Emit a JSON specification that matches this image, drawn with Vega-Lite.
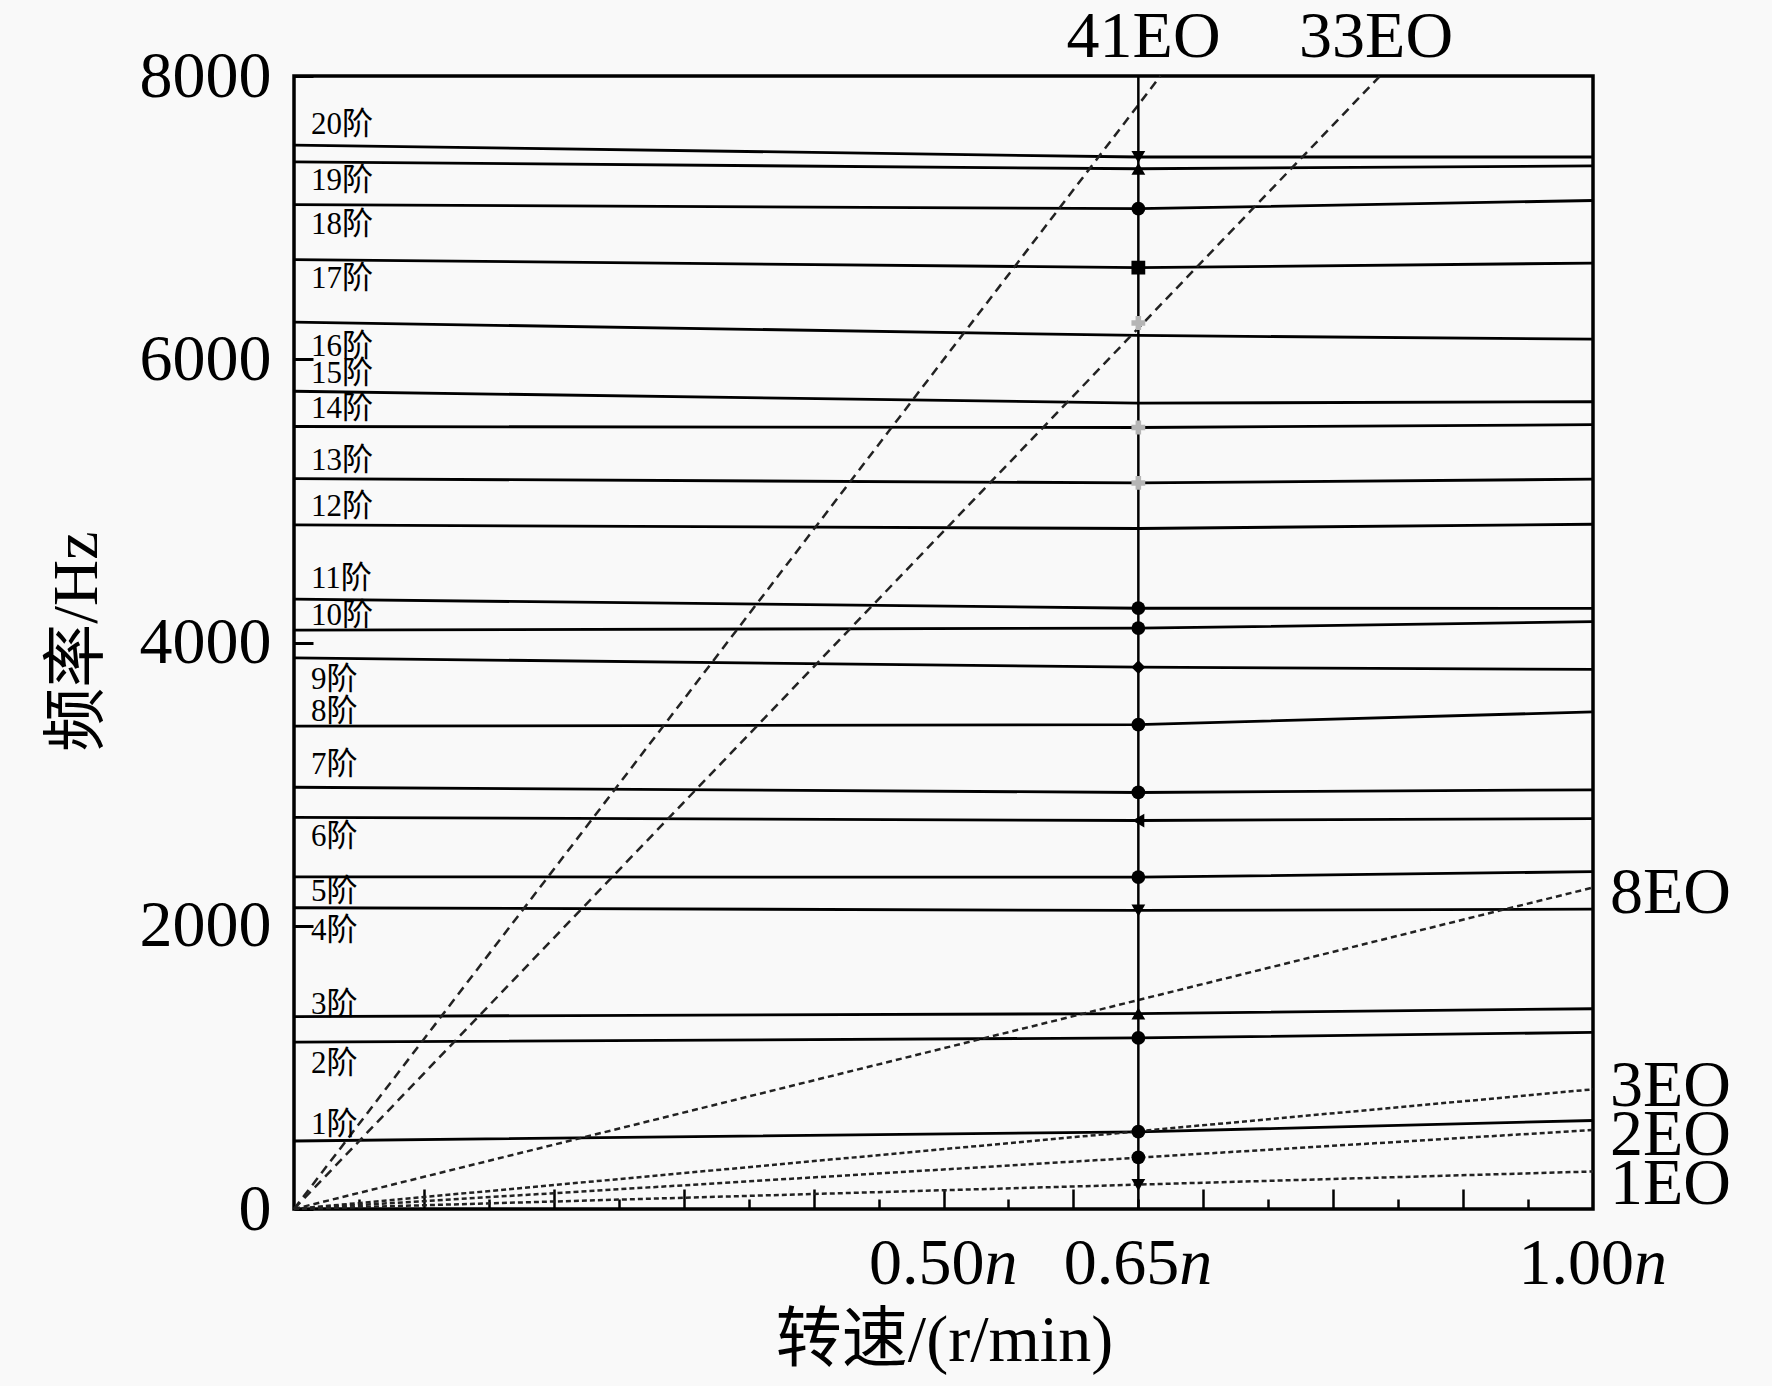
{
  "$schema": "https://vega.github.io/schema/vega-lite/v6.json",
  "autosize": "none",
  "width": 1299,
  "height": 1133,
  "padding": {"left": 294, "top": 76, "right": 179, "bottom": 177},
  "background": "#f9f9f9",
  "config": {
    "view": {"stroke": "#000000", "strokeWidth": 3.5, "fill": "#f9f9f9"},
    "font": "Liberation Serif, Noto Sans CJK SC"
  },
  "datasets": {
    "modes": [
      {"mode": "1阶", "x": 0, "f": 480}, {"mode": "1阶", "x": 0.65, "f": 545}, {"mode": "1阶", "x": 1, "f": 625},
      {"mode": "2阶", "x": 0, "f": 1178}, {"mode": "2阶", "x": 0.65, "f": 1208}, {"mode": "2阶", "x": 1, "f": 1247},
      {"mode": "3阶", "x": 0, "f": 1359}, {"mode": "3阶", "x": 0.65, "f": 1380}, {"mode": "3阶", "x": 1, "f": 1414},
      {"mode": "4阶", "x": 0, "f": 2127}, {"mode": "4阶", "x": 0.65, "f": 2108}, {"mode": "4阶", "x": 1, "f": 2117},
      {"mode": "5阶", "x": 0, "f": 2345}, {"mode": "5阶", "x": 0.65, "f": 2343}, {"mode": "5阶", "x": 1, "f": 2382},
      {"mode": "6阶", "x": 0, "f": 2765}, {"mode": "6阶", "x": 0.65, "f": 2743}, {"mode": "6阶", "x": 1, "f": 2757},
      {"mode": "7阶", "x": 0, "f": 2978}, {"mode": "7阶", "x": 0.65, "f": 2941}, {"mode": "7阶", "x": 1, "f": 2960},
      {"mode": "8阶", "x": 0, "f": 3409}, {"mode": "8阶", "x": 0.65, "f": 3420}, {"mode": "8阶", "x": 1, "f": 3510},
      {"mode": "9阶", "x": 0, "f": 3891}, {"mode": "9阶", "x": 0.65, "f": 3826}, {"mode": "9阶", "x": 1, "f": 3810},
      {"mode": "10阶", "x": 0, "f": 4088}, {"mode": "10阶", "x": 0.65, "f": 4101}, {"mode": "10阶", "x": 1, "f": 4147},
      {"mode": "11阶", "x": 0, "f": 4306}, {"mode": "11阶", "x": 0.65, "f": 4242}, {"mode": "11阶", "x": 1, "f": 4241},
      {"mode": "12阶", "x": 0, "f": 4830}, {"mode": "12阶", "x": 0.65, "f": 4805}, {"mode": "12阶", "x": 1, "f": 4835},
      {"mode": "13阶", "x": 0, "f": 5157}, {"mode": "13阶", "x": 0.65, "f": 5127}, {"mode": "13阶", "x": 1, "f": 5153},
      {"mode": "14阶", "x": 0, "f": 5525}, {"mode": "14阶", "x": 0.65, "f": 5518}, {"mode": "14阶", "x": 1, "f": 5538},
      {"mode": "15阶", "x": 0, "f": 5774}, {"mode": "15阶", "x": 0.65, "f": 5690}, {"mode": "15阶", "x": 1, "f": 5700},
      {"mode": "16阶", "x": 0, "f": 6262}, {"mode": "16阶", "x": 0.65, "f": 6168}, {"mode": "16阶", "x": 1, "f": 6142},
      {"mode": "17阶", "x": 0, "f": 6703}, {"mode": "17阶", "x": 0.65, "f": 6647}, {"mode": "17阶", "x": 1, "f": 6679},
      {"mode": "18阶", "x": 0, "f": 7092}, {"mode": "18阶", "x": 0.65, "f": 7063}, {"mode": "18阶", "x": 1, "f": 7121},
      {"mode": "19阶", "x": 0, "f": 7393}, {"mode": "19阶", "x": 0.65, "f": 7345}, {"mode": "19阶", "x": 1, "f": 7365},
      {"mode": "20阶", "x": 0, "f": 7512}, {"mode": "20阶", "x": 0.65, "f": 7428}, {"mode": "20阶", "x": 1, "f": 7428}
    ],
    "eo": [
      {"eo": "41EO", "x": 0, "f": 0}, {"eo": "41EO", "x": 0.667, "f": 8000},
      {"eo": "33EO", "x": 0, "f": 0}, {"eo": "33EO", "x": 0.836, "f": 8000},
      {"eo": "8EO", "x": 0, "f": 0}, {"eo": "8EO", "x": 1, "f": 2270},
      {"eo": "3EO", "x": 0, "f": 0}, {"eo": "3EO", "x": 1, "f": 845},
      {"eo": "2EO", "x": 0, "f": 0}, {"eo": "2EO", "x": 1, "f": 558},
      {"eo": "1EO", "x": 0, "f": 0}, {"eo": "1EO", "x": 1, "f": 265}
    ],
    "points": [
      {"mode": "20阶", "kind": "模态", "x": 0.65, "f": 7428},
      {"mode": "19阶", "kind": "模态", "x": 0.65, "f": 7345},
      {"mode": "18阶", "kind": "模态", "x": 0.65, "f": 7063},
      {"mode": "17阶", "kind": "模态", "x": 0.65, "f": 6647},
      {"mode": "33EO", "kind": "交点", "x": 0.65, "f": 6256},
      {"mode": "14阶", "kind": "交点", "x": 0.65, "f": 5518},
      {"mode": "13阶", "kind": "交点", "x": 0.65, "f": 5127},
      {"mode": "11阶", "kind": "模态", "x": 0.65, "f": 4242},
      {"mode": "10阶", "kind": "模态", "x": 0.65, "f": 4101},
      {"mode": "9阶", "kind": "模态", "x": 0.65, "f": 3826},
      {"mode": "8阶", "kind": "模态", "x": 0.65, "f": 3420},
      {"mode": "7阶", "kind": "模态", "x": 0.65, "f": 2941},
      {"mode": "6阶", "kind": "模态", "x": 0.65, "f": 2743},
      {"mode": "5阶", "kind": "模态", "x": 0.65, "f": 2343},
      {"mode": "4阶", "kind": "模态", "x": 0.65, "f": 2108},
      {"mode": "3阶", "kind": "模态", "x": 0.65, "f": 1380},
      {"mode": "2阶", "kind": "模态", "x": 0.65, "f": 1208},
      {"mode": "1阶", "kind": "模态", "x": 0.65, "f": 546},
      {"mode": "2EO", "kind": "模态", "x": 0.65, "f": 365},
      {"mode": "1EO", "kind": "模态", "x": 0.65, "f": 169}
    ],
    "modeLabels": [
      {"label": "20阶", "x": 0.013, "f": 7654},
      {"label": "19阶", "x": 0.013, "f": 7261},
      {"label": "18阶", "x": 0.013, "f": 6948},
      {"label": "17阶", "x": 0.013, "f": 6568},
      {"label": "16阶", "x": 0.013, "f": 6090},
      {"label": "15阶", "x": 0.013, "f": 5897},
      {"label": "14阶", "x": 0.013, "f": 5648},
      {"label": "13阶", "x": 0.013, "f": 5281},
      {"label": "12阶", "x": 0.013, "f": 4959},
      {"label": "11阶", "x": 0.013, "f": 4450},
      {"label": "10阶", "x": 0.013, "f": 4189},
      {"label": "9阶", "x": 0.013, "f": 3736},
      {"label": "8阶", "x": 0.013, "f": 3512},
      {"label": "7阶", "x": 0.013, "f": 3137},
      {"label": "6阶", "x": 0.013, "f": 2627},
      {"label": "5阶", "x": 0.013, "f": 2236},
      {"label": "4阶", "x": 0.013, "f": 1961},
      {"label": "3阶", "x": 0.013, "f": 1440},
      {"label": "2阶", "x": 0.013, "f": 1024},
      {"label": "1阶", "x": 0.013, "f": 590}
    ],
    "eoTop": [
      {"label": "41EO", "x": 0.654, "f": 8134},
      {"label": "33EO", "x": 0.833, "f": 8134}
    ],
    "eoRight": [
      {"label": "8EO", "x": 1.013, "f": 2090},
      {"label": "3EO", "x": 1.013, "f": 727},
      {"label": "2EO", "x": 1.013, "f": 384},
      {"label": "1EO", "x": 1.013, "f": 38}
    ],
    "speeds": [
      {"x": 0.5, "f": 0, "num": "0.50"},
      {"x": 0.65, "f": 0, "num": "0.65"},
      {"x": 1, "f": 0, "num": "1.00"}
    ],
    "operating": [
      {"x": 0.65, "f": 0, "f2": 8000}
    ]
  },
  "encoding": {
    "x": {
      "field": "x",
      "type": "quantitative",
      "scale": {"domain": [0, 1], "nice": false, "zero": false},
      "axis": {
        "values": [0.05, 0.1, 0.15, 0.2, 0.25, 0.3, 0.35, 0.4, 0.45, 0.5, 0.55, 0.6, 0.65, 0.7, 0.75, 0.8, 0.85, 0.9, 0.95],
        "labels": false,
        "domain": false,
        "grid": false,
        "tickColor": "#000000",
        "tickWidth": 2.5,
        "tickSize": {"condition": {"test": "abs(datum.value * 10 - round(datum.value * 10)) < 0.001", "value": -20}, "value": -10},
        "title": "转速/(r/min)",
        "titleFont": "Liberation Serif, Noto Sans CJK SC",
        "titleFontSize": 66,
        "titleFontWeight": "normal",
        "titleColor": "#000000",
        "titleX": 650,
        "titleY": 131,
        "titleBaseline": "middle"
      }
    },
    "y": {
      "field": "f",
      "type": "quantitative",
      "scale": {"domain": [0, 8000], "nice": false},
      "axis": {
        "values": [0, 2000, 4000, 6000, 8000],
        "format": "d",
        "domain": false,
        "grid": false,
        "tickColor": "#000000",
        "tickWidth": 3,
        "tickSize": -19,
        "labelFont": "Liberation Serif",
        "labelFontSize": 66,
        "labelColor": "#000000",
        "labelPadding": 42,
        "title": "频率/Hz",
        "titleFont": "Liberation Serif, Noto Sans CJK SC",
        "titleFontSize": 64,
        "titleFontWeight": "normal",
        "titleColor": "#000000",
        "titleX": -217,
        "titleY": 565,
        "titleBaseline": "middle"
      }
    }
  },
  "layer": [
    {
      "data": {"name": "modes"},
      "mark": {"type": "line", "color": "#000000", "strokeWidth": 2.8},
      "encoding": {
        "detail": {"field": "mode"},
        "order": {"field": "x", "type": "quantitative"}
      }
    },
    {
      "data": {"name": "eo"},
      "mark": {"type": "line", "color": "#222222", "strokeWidth": 2.5},
      "encoding": {
        "detail": {"field": "eo"},
        "order": {"field": "x", "type": "quantitative"},
        "strokeDash": {
          "field": "eo",
          "type": "nominal",
          "scale": {
            "domain": ["41EO", "33EO", "8EO", "3EO", "2EO", "1EO"],
            "range": [[9, 6], [9, 6], [6, 4], [5, 3], [5, 3], [5, 3]]
          },
          "legend": null
        }
      }
    },
    {
      "data": {"name": "operating"},
      "mark": {"type": "rule", "color": "#000000", "strokeWidth": 2.5},
      "encoding": {
        "y2": {"field": "f2"}
      }
    },
    {
      "data": {"name": "points"},
      "mark": {"type": "point", "filled": true, "size": 190, "opacity": 1},
      "encoding": {
        "shape": {
          "field": "mode",
          "type": "nominal",
          "scale": {
            "domain": ["20阶", "19阶", "18阶", "17阶", "33EO", "14阶", "13阶", "11阶", "10阶", "9阶", "8阶", "7阶", "6阶", "5阶", "4阶", "3阶", "2阶", "1阶", "2EO", "1EO"],
            "range": ["triangle-down", "triangle-up", "circle", "square", "cross", "cross", "cross", "circle", "circle", "diamond", "circle", "circle", "triangle-left", "circle", "triangle-down", "triangle-up", "circle", "circle", "circle", "triangle-down"]
          },
          "legend": null
        },
        "color": {
          "field": "kind",
          "type": "nominal",
          "scale": {"domain": ["模态", "交点"], "range": ["#000000", "#b5b5b5"]},
          "legend": null
        }
      }
    },
    {
      "data": {"name": "modeLabels"},
      "mark": {"type": "text", "align": "left", "baseline": "middle", "fontSize": 31, "font": "Liberation Serif, Noto Sans CJK SC", "color": "#000000"},
      "encoding": {"text": {"field": "label"}}
    },
    {
      "data": {"name": "eoTop"},
      "mark": {"type": "text", "align": "center", "baseline": "alphabetic", "fontSize": 66, "font": "Liberation Serif", "color": "#000000"},
      "encoding": {"text": {"field": "label"}}
    },
    {
      "data": {"name": "eoRight"},
      "mark": {"type": "text", "align": "left", "baseline": "alphabetic", "fontSize": 66, "font": "Liberation Serif", "color": "#000000"},
      "encoding": {"text": {"field": "label"}}
    },
    {
      "data": {"name": "speeds"},
      "mark": {"type": "text", "align": "right", "baseline": "middle", "fontSize": 66, "font": "Liberation Serif", "color": "#000000", "dx": 41, "dy": 55},
      "encoding": {"text": {"field": "num"}}
    },
    {
      "data": {"name": "speeds"},
      "mark": {"type": "text", "align": "left", "baseline": "middle", "fontSize": 66, "font": "Liberation Serif", "fontStyle": "italic", "color": "#000000", "dx": 41, "dy": 55},
      "encoding": {"text": {"value": "n"}}
    }
  ]
}
